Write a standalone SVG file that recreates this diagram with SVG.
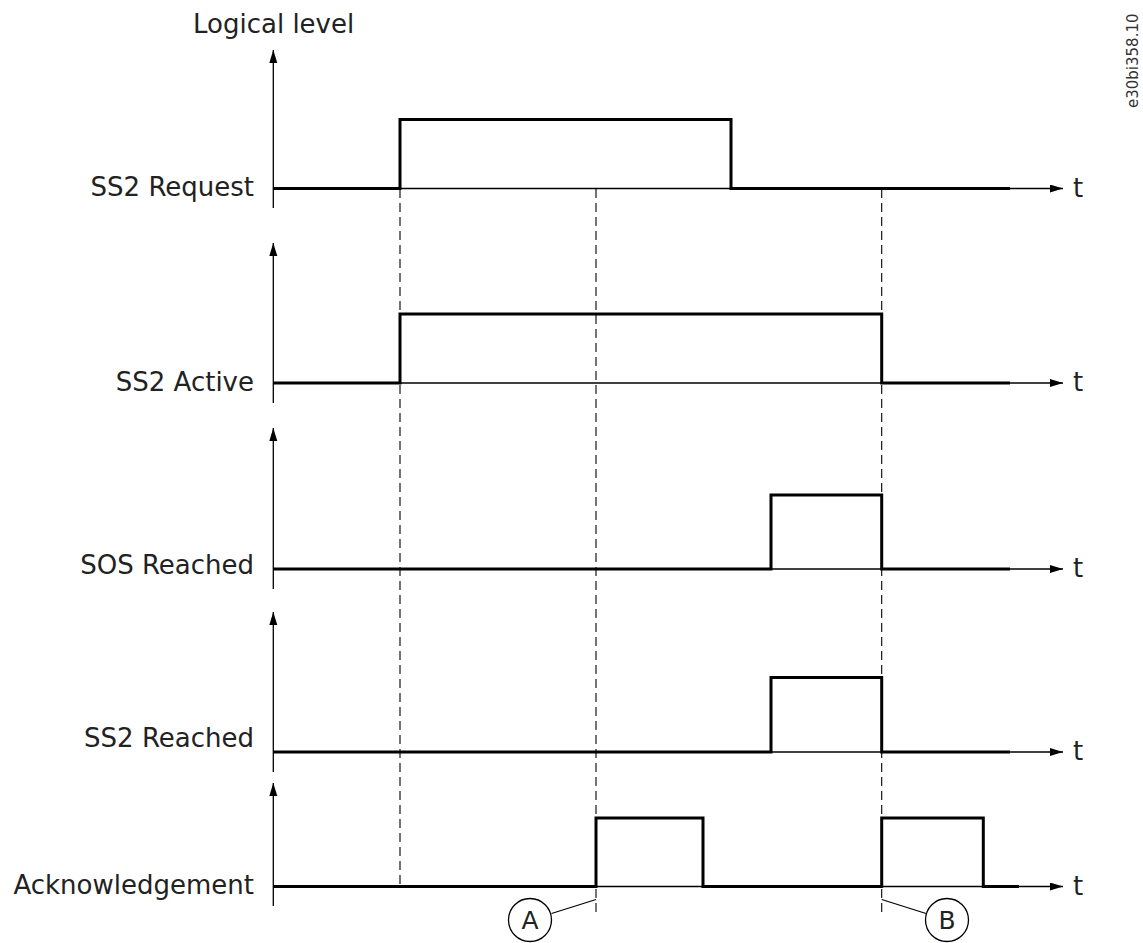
<svg xmlns="http://www.w3.org/2000/svg" width="1143" height="943" viewBox="0 0 1143 943">
<defs>
<marker id="arr" markerUnits="userSpaceOnUse" markerWidth="14" markerHeight="10" refX="13" refY="4" orient="auto">
<path d="M0,0 L13,4 L0,8 Z" fill="#000"/>
</marker>
<style>
.lbl{font-family:"DejaVu Sans","Liberation Sans",sans-serif;font-size:26px;fill:#222;}
.t{font-family:"DejaVu Sans","Liberation Sans",sans-serif;font-size:26px;fill:#222;}
.ax{stroke:#000;stroke-width:1.3;fill:none;}
.sig{stroke:#000;stroke-width:3;fill:none;stroke-linejoin:miter;stroke-linecap:butt;}
.dash{stroke:#000;stroke-width:1.1;stroke-dasharray:9,5;fill:none;}
.lead{stroke:#000;stroke-width:1.2;fill:none;}
.circ{stroke:#000;stroke-width:1.3;fill:#fff;}
.cl{font-family:"DejaVu Sans","Liberation Sans",sans-serif;font-size:25px;fill:#222;text-anchor:middle;}
</style>
</defs>
<rect width="1143" height="943" fill="#fff"/>
<text x="193" y="33" class="lbl">Logical level</text>
<text transform="translate(1138,108) rotate(-90)" font-family="DejaVu Sans, Liberation Sans, sans-serif" font-size="15" fill="#333">e30bi358.10</text>

<g id="connectors">
<line class="dash" x1="400" y1="189" x2="400" y2="886"/>
<line class="dash" x1="596" y1="189" x2="596" y2="917"/>
<line class="dash" x1="881.7" y1="189" x2="881.7" y2="917"/>
<line class="lead" x1="551.5" y1="913.5" x2="596" y2="899.5"/>
<line class="lead" x1="881.7" y1="899.5" x2="926" y2="913.5"/>
</g>

<g id="row-ss2-request">
<line class="ax" x1="273.3" y1="208" x2="273.3" y2="50" marker-end="url(#arr)"/>
<line class="ax" x1="273.3" y1="188.5" x2="1063" y2="188.5" marker-end="url(#arr)"/>
<path class="sig" d="M273,188.5 H400 V119.5 H731 V188.5 H1010"/>
<text x="254" y="196" class="lbl" text-anchor="end">SS2 Request</text>
<text x="1073" y="197" class="t">t</text>
</g>

<g id="row-ss2-active">
<line class="ax" x1="273.3" y1="403" x2="273.3" y2="243" marker-end="url(#arr)"/>
<line class="ax" x1="273.3" y1="383" x2="1063" y2="383" marker-end="url(#arr)"/>
<path class="sig" d="M273,383 H400 V314 H881.7 V383 H1010"/>
<text x="254" y="391" class="lbl" text-anchor="end">SS2 Active</text>
<text x="1073" y="391" class="t">t</text>
</g>

<g id="row-sos-reached">
<line class="ax" x1="273.3" y1="589" x2="273.3" y2="428" marker-end="url(#arr)"/>
<line class="ax" x1="273.3" y1="569" x2="1063" y2="569" marker-end="url(#arr)"/>
<path class="sig" d="M273,569 H771 V495 H881.7 V569 H1010"/>
<text x="254" y="574" class="lbl" text-anchor="end">SOS Reached</text>
<text x="1073" y="577" class="t">t</text>
</g>

<g id="row-ss2-reached">
<line class="ax" x1="273.3" y1="772" x2="273.3" y2="612" marker-end="url(#arr)"/>
<line class="ax" x1="273.3" y1="752" x2="1063" y2="752" marker-end="url(#arr)"/>
<path class="sig" d="M273,752 H771 V677.5 H881.7 V752 H1010"/>
<text x="254" y="747" class="lbl" text-anchor="end">SS2 Reached</text>
<text x="1073" y="760" class="t">t</text>
</g>

<g id="row-acknowledgement">
<line class="ax" x1="273.3" y1="906" x2="273.3" y2="783" marker-end="url(#arr)"/>
<line class="ax" x1="273.3" y1="886.5" x2="1063" y2="886.5" marker-end="url(#arr)"/>
<path class="sig" d="M273,886.5 H596 V818 H703 V886.5 H881.7 V818 H983.3 V886.5 H1019"/>
<text x="254" y="894" class="lbl" text-anchor="end">Acknowledgement</text>
<text x="1073" y="895" class="t">t</text>
</g>

<g id="marker-a">
<circle class="circ" cx="530" cy="920" r="21.5"/>
<text x="530" y="929" class="cl">A</text>
</g>
<g id="marker-b">
<circle class="circ" cx="947" cy="920" r="21.5"/>
<text x="947" y="929" class="cl">B</text>
</g>
</svg>
